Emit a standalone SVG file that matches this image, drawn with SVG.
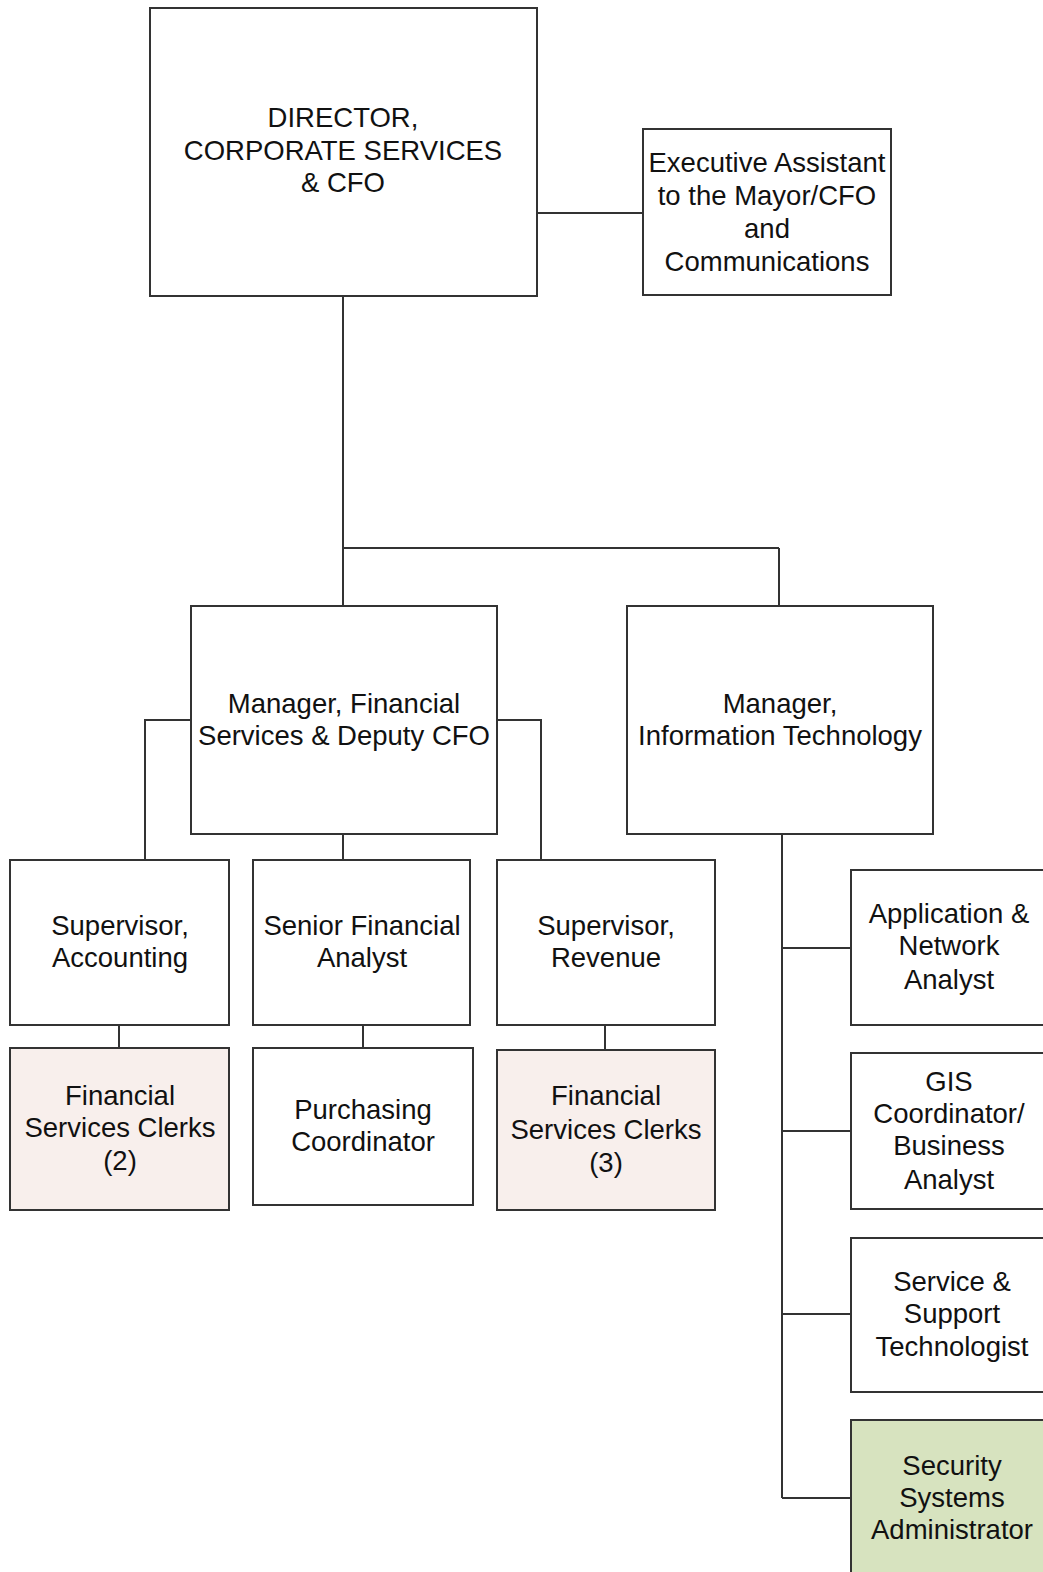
<svg xmlns="http://www.w3.org/2000/svg" width="1043" height="1572" viewBox="0 0 1043 1572">
  <style>
    .box { fill: #ffffff; stroke: #333333; stroke-width: 2; }
    .clerk { fill: #f8efec; }
    .sec { fill: #d7e3bf; }
    .lbl { font-family: "Liberation Sans", Arial, sans-serif; font-size: 27.5px; fill: #111111; text-anchor: middle; }
    .wire { fill: none; stroke: #333333; stroke-width: 2; }
  </style>
  <rect width="1043" height="1572" fill="#ffffff"/>

  <!-- reporting lines -->
  <g id="connectors">
    <path class="wire" d="M537 213 H643"/>
    <path class="wire" d="M343 296 V548 M343 548 H779 M343 548 V606 M779 548 V606"/>
    <path class="wire" d="M191 720 H145 V860 M497 720 H541 V860 M343 834 V860"/>
    <path class="wire" d="M119 1025 V1048 M363 1025 V1048 M605 1025 V1050"/>
    <path class="wire" d="M782 834 V1498 M782 948 H851 M782 1131 H851 M782 1314 H851 M782 1498 H851"/>
  </g>

  <g id="director">
    <rect class="box" x="150" y="8" width="387" height="288"/>
    <text class="lbl" x="343" y="127">DIRECTOR,</text>
    <text class="lbl" x="343" y="160">CORPORATE SERVICES</text>
    <text class="lbl" x="343" y="192">&amp; CFO</text>
  </g>

  <g id="exec-assistant">
    <rect class="box" x="643" y="129" width="248" height="166"/>
    <text class="lbl" x="767" y="172">Executive Assistant</text>
    <text class="lbl" x="767" y="205">to the Mayor/CFO</text>
    <text class="lbl" x="767" y="238">and</text>
    <text class="lbl" x="767" y="271">Communications</text>
  </g>

  <g id="manager-financial">
    <rect class="box" x="191" y="606" width="306" height="228"/>
    <text class="lbl" x="344" y="713">Manager, Financial</text>
    <text class="lbl" x="344" y="745">Services &amp; Deputy CFO</text>
  </g>

  <g id="manager-it">
    <rect class="box" x="627" y="606" width="306" height="228"/>
    <text class="lbl" x="780" y="713">Manager,</text>
    <text class="lbl" x="780" y="745">Information Technology</text>
  </g>

  <g id="supervisor-accounting">
    <rect class="box" x="10" y="860" width="219" height="165"/>
    <text class="lbl" x="120" y="935">Supervisor,</text>
    <text class="lbl" x="120" y="967">Accounting</text>
  </g>

  <g id="senior-analyst">
    <rect class="box" x="253" y="860" width="217" height="165"/>
    <text class="lbl" x="362" y="935">Senior Financial</text>
    <text class="lbl" x="362" y="967">Analyst</text>
  </g>

  <g id="supervisor-revenue">
    <rect class="box" x="497" y="860" width="218" height="165"/>
    <text class="lbl" x="606" y="935">Supervisor,</text>
    <text class="lbl" x="606" y="967">Revenue</text>
  </g>

  <g id="clerks-accounting">
    <rect class="box clerk" x="10" y="1048" width="219" height="162"/>
    <text class="lbl" x="120" y="1105">Financial</text>
    <text class="lbl" x="120" y="1137">Services Clerks</text>
    <text class="lbl" x="120" y="1170">(2)</text>
  </g>

  <g id="purchasing">
    <rect class="box" x="253" y="1048" width="220" height="157"/>
    <text class="lbl" x="363" y="1119">Purchasing</text>
    <text class="lbl" x="363" y="1151">Coordinator</text>
  </g>

  <g id="clerks-revenue">
    <rect class="box clerk" x="497" y="1050" width="218" height="160"/>
    <text class="lbl" x="606" y="1105">Financial</text>
    <text class="lbl" x="606" y="1139">Services Clerks</text>
    <text class="lbl" x="606" y="1172">(3)</text>
  </g>

  <g id="app-network">
    <rect class="box" x="851" y="870" width="200" height="155"/>
    <text class="lbl" x="949" y="923">Application &amp;</text>
    <text class="lbl" x="949" y="955">Network</text>
    <text class="lbl" x="949" y="989">Analyst</text>
  </g>

  <g id="gis">
    <rect class="box" x="851" y="1053" width="200" height="156"/>
    <text class="lbl" x="949" y="1091">GIS</text>
    <text class="lbl" x="949" y="1123">Coordinator/</text>
    <text class="lbl" x="949" y="1155">Business</text>
    <text class="lbl" x="949" y="1189">Analyst</text>
  </g>

  <g id="service-support">
    <rect class="box" x="851" y="1238" width="200" height="154"/>
    <text class="lbl" x="952" y="1291">Service &amp;</text>
    <text class="lbl" x="952" y="1323">Support</text>
    <text class="lbl" x="952" y="1356">Technologist</text>
  </g>

  <g id="security-admin">
    <rect class="box sec" x="851" y="1420" width="200" height="170"/>
    <text class="lbl" x="952" y="1475">Security</text>
    <text class="lbl" x="952" y="1507">Systems</text>
    <text class="lbl" x="952" y="1539">Administrator</text>
  </g>
</svg>
